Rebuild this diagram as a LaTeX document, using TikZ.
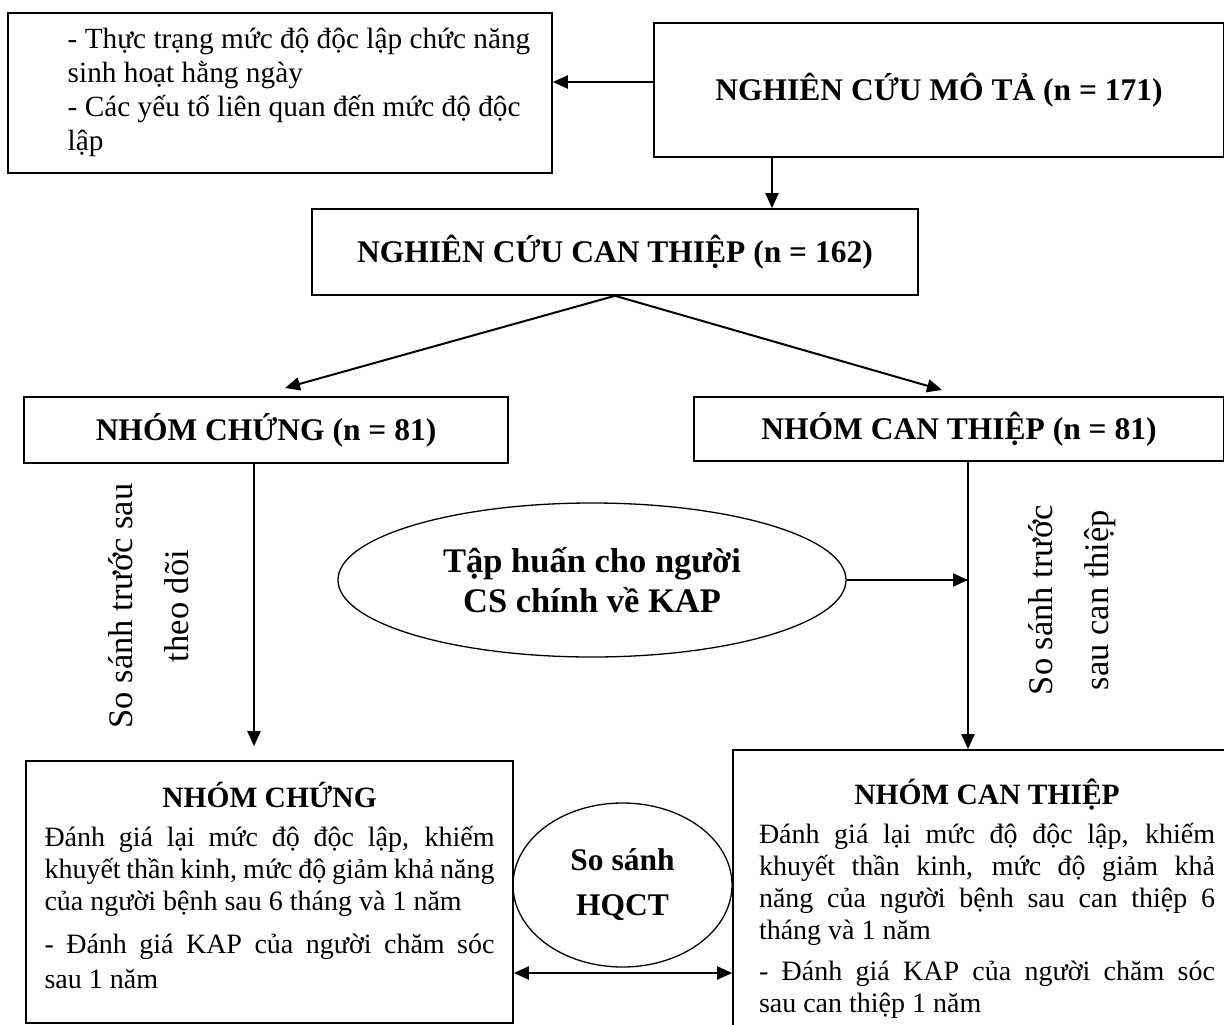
\documentclass[tikz,border=0pt]{standalone}
\usepackage{fontspec}
\setmainfont{Liberation Serif}
\usetikzlibrary{arrows.meta,shapes.geometric}
\setlength{\parindent}{0pt}

\begin{document}
\begin{tikzpicture}[
  x=1pt, y=-1pt,
  box/.style={draw, line width=1.6pt, inner sep=0pt, align=center},
  oval/.style={draw, ellipse, line width=1.3pt, inner sep=0pt, align=center},
  bold/.style={font=\bfseries\fontsize{31.5}{40}\selectfont},
  body/.style={font=\fontsize{28}{32}\selectfont},
  side/.style={font=\fontsize{34.5}{56}\selectfont, align=center, rotate=90},
  arr/.style={-{Triangle[length=15pt,width=13pt]}, line width=2pt}
]
\useasboundingbox (0,0) rectangle (1224,1025);
\clip (0,0) rectangle (1224,1025);

% Top row
\node[box, font=\fontsize{29.3}{34}\selectfont, minimum width=544, minimum height=160] (thuctrang) at (280,93)
  {\hspace*{38pt}\begin{tabular}{@{}l@{}}- Thực trạng mức độ độc lập chức năng\\sinh hoạt hằng ngày\\- Các yếu tố liên quan đến mức độ độc\\lập\end{tabular}};
\node[box, bold, minimum width=570, minimum height=134] (mota) at (939,90) {NGHIÊN CỨU MÔ TẢ (n = 171)};

% Intervention study
\node[box, bold, minimum width=606, minimum height=86] (canthiep) at (615,252) {NGHIÊN CỨU CAN THIỆP (n = 162)};

% Two groups
\node[box, bold, minimum width=484, minimum height=66] (nhomchung) at (266,430) {NHÓM CHỨNG (n = 81)};
\node[box, bold, minimum width=530, minimum height=64] (nhomct) at (959,429) {NHÓM CAN THIỆP (n = 81)};

% Training and side labels
\node[oval, bold, font=\bfseries\fontsize{34.5}{40}\selectfont, minimum width=508, minimum height=154] (taphuan) at (592,580) {Tập huấn cho người\\CS chính về KAP};
\node[side] (lblchung) at (149,606) {So sánh trước sau\\theo dõi};
\node[side] (lblct) at (1072,600) {So sánh trước\\sau can thiệp};

% Results
\node[box, body, minimum width=487, minimum height=262, text width=450, align=justify] (kqchung) at (269.5,892)
  {\makebox[\linewidth]{\bfseries\fontsize{29.5}{32}\selectfont NHÓM CHỨNG}\par\vspace{7pt}
   Đánh giá lại mức độ độc lập, khiếm\linebreak khuyết thần kinh, mức độ giảm khả năng\linebreak của người bệnh sau 6 tháng và 1 năm\par\vspace{8pt}
   {\fontsize{28}{35}\selectfont - Đánh giá KAP của người chăm sóc\linebreak sau 1 năm\par}\vspace{14pt}\hrule height 0pt};
\node[box, body, minimum width=508, minimum height=298, text width=456, align=justify] (kqct) at (987,899)
  {\makebox[\linewidth]{\bfseries\fontsize{29.5}{32}\selectfont NHÓM CAN THIỆP}\par\vspace{7pt}
   Đánh giá lại mức độ độc lập, khiếm\linebreak khuyết thần kinh, mức độ giảm khả\linebreak năng của người bệnh sau can thiệp 6\linebreak tháng và 1 năm\par\vspace{9pt}
   - Đánh giá KAP của người chăm sóc\linebreak sau can thiệp 1 năm};
\node[oval, bold, font=\bfseries\fontsize{31.5}{45}\selectfont, minimum width=219, minimum height=164] (sosanh) at (622.5,885) {So sánh\\HQCT};

% Arrows
\coordinate (arrY) at (0,82);
\coordinate (xmt) at (772,0);
\coordinate (tipL) at (285,388);
\coordinate (tipR) at (942,390);
\coordinate (xch) at (254,0);
\coordinate (xct) at (968,0);
\coordinate (hqY) at (0,973);

\draw[arr] (mota.west |- arrY) -- (thuctrang.east |- arrY);
\draw[arr] (mota.south -| xmt) -- (canthiep.north -| xmt);
\draw[arr] (canthiep.south) -- (tipL);
\draw[arr] (canthiep.south) -- (tipR);
\draw[arr, shorten >=14pt] (nhomchung.south -| xch) -- (kqchung.north -| xch);
\draw[arr] (nhomct.south -| xct) -- (kqct.north -| xct);
\draw[arr] (taphuan.east) -- (taphuan.east -| xct);
\draw[{Triangle[length=15pt,width=13pt]}-{Triangle[length=15pt,width=13pt]}, line width=2pt] (kqchung.east |- hqY) -- (kqct.west |- hqY);

\end{tikzpicture}
\end{document}
